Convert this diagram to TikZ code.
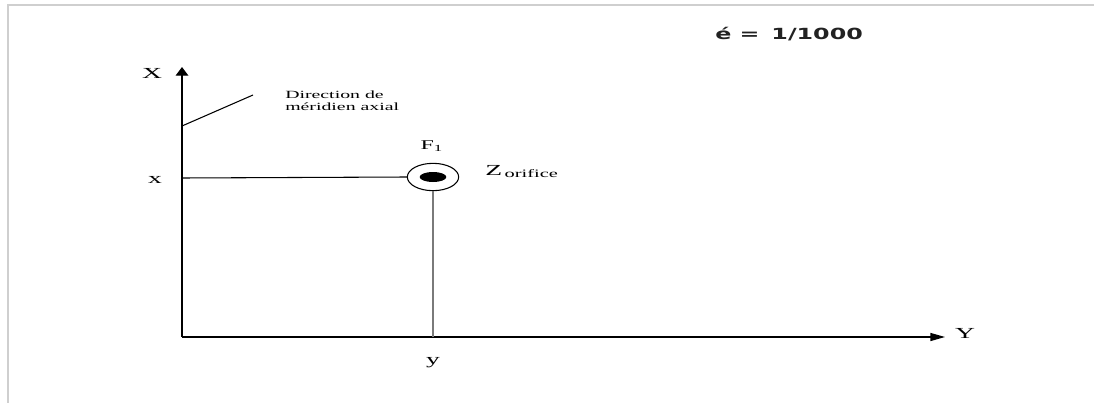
\documentclass[tikz,border=0pt]{standalone}
\usepackage{fontspec}
\usepackage{graphicx}
\setmainfont{Liberation Serif}
\newfontfamily\dejavu{DejaVu Sans}
\usetikzlibrary{arrows.meta,shapes.geometric}
\newcommand{\sx}[1]{\scalebox{1.8}[1]{#1}}
\definecolor{bordergray}{HTML}{CFCFCF}
\definecolor{linegray}{HTML}{7A7A7A}
\definecolor{epsgray}{HTML}{222222}
\begin{document}
\begin{tikzpicture}[x=0.75pt,y=-0.75pt,
  frame/.style={draw=bordergray,line width=1.5pt},
  axis/.style={draw=black,line width=1pt},
  thin/.style={draw=black,line width=0.8pt},
  lbl/.style={inner sep=0pt,font=\fontsize{11.5}{13}\selectfont},
  small/.style={inner sep=0pt,font=\fontsize{8.25}{9.2}\selectfont,align=left}]
\useasboundingbox (0,0) rectangle (1094,403);
% frame
\coordinate (fa) at (7,5);
\coordinate (fb) at (1094,5);
\coordinate (fc) at (8,5);
\coordinate (fd) at (8,403);
\draw[frame] (fa) -- (fb);
\draw[frame] (fc) -- (fd);
% axes
\coordinate (O) at (182,337);
\coordinate (Xtip) at (182,67);
\coordinate (Ytip) at (945,337);
\draw[axis,-{Triangle[length=6.5pt,width=9.5pt]}] (O) -- (Xtip);
\draw[axis,-{Triangle[length=11pt,width=6pt]}] (O) -- (Ytip);
\node[lbl] (Xl) at (152,73) {\sx{X}};
\node[lbl] (Yl) at (965,333) {\sx{Y}};
\node[lbl] (xl) at (155,180) {\sx{x}};
\node[lbl] (yl) at (433,363) {\sx{y}};
% direction
\coordinate (d1) at (182,126);
\coordinate (d2) at (253,95);
\draw[thin] (d1) -- (d2);
\node[small,anchor=north west] (dir) at (285,90.5) {\sx{Direction de}\\\sx{méridien axial}};
% orifice
\node[draw,ellipse,line width=0.8pt,minimum width=38.5pt,minimum height=20.5pt,inner sep=0pt] (circ) at (433,177) {};
\node[fill=black,ellipse,minimum width=20pt,minimum height=7.5pt,inner sep=0pt] (dot) at (433,177) {};
\coordinate (xo) at (182,178);
\coordinate (yo) at (433,337);
\draw[thin] (xo) -- (circ.west);
\draw[draw=linegray,line width=1.2pt] (circ.south) -- (yo);
\node[inner sep=0pt,font=\fontsize{10}{12}\selectfont] (F1) at (432,146) {\sx{F\textsubscript{1}}};
\node[inner sep=0pt,anchor=base west,font=\fontsize{11.5}{13}\selectfont] (zl) at (485,175) {\sx{Z}\,\raisebox{-2.2pt}{\fontsize{8.5}{10}\selectfont\sx{orifice}}};
% epsilon
\node[inner sep=0pt,anchor=base west,text=epsgray,font=\dejavu\bfseries\fontsize{11.5}{13}\selectfont] (eps) at (715,40) {\scalebox{1.55}[1]{é =\hspace{0.5em}1/1000}};
\end{tikzpicture}
\end{document}
